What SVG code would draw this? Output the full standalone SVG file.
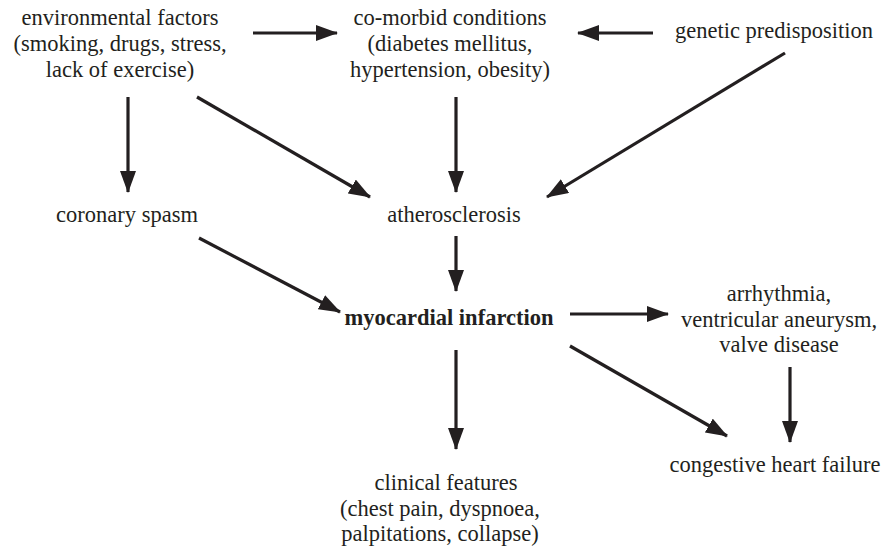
<svg xmlns="http://www.w3.org/2000/svg" width="883" height="547" viewBox="0 0 883 547">
<style>
text{font-family:'Liberation Serif','Times New Roman',serif;font-size:22.5px;fill:#231f20;text-anchor:middle}
.b{font-weight:bold}
.c line{stroke:#231f20;stroke-width:3.2;marker-end:url(#ah)}
</style>
<defs>
<marker id="ah" markerUnits="userSpaceOnUse" markerWidth="22" markerHeight="16" refX="21" refY="8" orient="auto" viewBox="0 0 22 16">
<path d="M0,0 L22,8 L0,16 Z" fill="#231f20"/>
</marker>
</defs>
<rect width="883" height="547" fill="#fff"/>
<g id="env"><text x="120" y="25">environmental factors</text><text x="120" y="51">(smoking, drugs, stress,</text><text x="120" y="77">lack of exercise)</text></g>
<g id="comorbid"><text x="450" y="25">co-morbid conditions</text><text x="450" y="51">(diabetes mellitus,</text><text x="450" y="77">hypertension, obesity)</text></g>
<g id="genetic"><text x="774" y="38">genetic predisposition</text></g>
<g id="spasm"><text x="127" y="222">coronary spasm</text></g>
<g id="athero"><text x="454" y="222">atherosclerosis</text></g>
<g id="mi"><text class="b" x="449" y="325">myocardial infarction</text></g>
<g id="arrhythmia"><text x="779" y="301">arrhythmia,</text><text x="779" y="327">ventricular aneurysm,</text><text x="779" y="352">valve disease</text></g>
<g id="chf"><text x="775" y="472">congestive heart failure</text></g>
<g id="clinical"><text x="446" y="490">clinical features</text><text x="440" y="516">(chest pain, dyspnoea,</text><text x="440" y="541">palpitations, collapse)</text></g>
<g class="c" id="connectors">
<line x1="253" y1="33" x2="337" y2="33"/>
<line x1="653" y1="33" x2="578" y2="33"/>
<line x1="128" y1="97" x2="128" y2="192"/>
<line x1="197" y1="97" x2="370" y2="197"/>
<line x1="456" y1="97" x2="456" y2="192"/>
<line x1="785" y1="53" x2="547" y2="197"/>
<line x1="199" y1="238" x2="340" y2="312"/>
<line x1="456" y1="236" x2="456" y2="291"/>
<line x1="570" y1="314" x2="668" y2="314"/>
<line x1="456" y1="350" x2="456" y2="449"/>
<line x1="570" y1="346" x2="727" y2="436"/>
<line x1="790" y1="367" x2="790" y2="442"/>
</g>
</svg>
